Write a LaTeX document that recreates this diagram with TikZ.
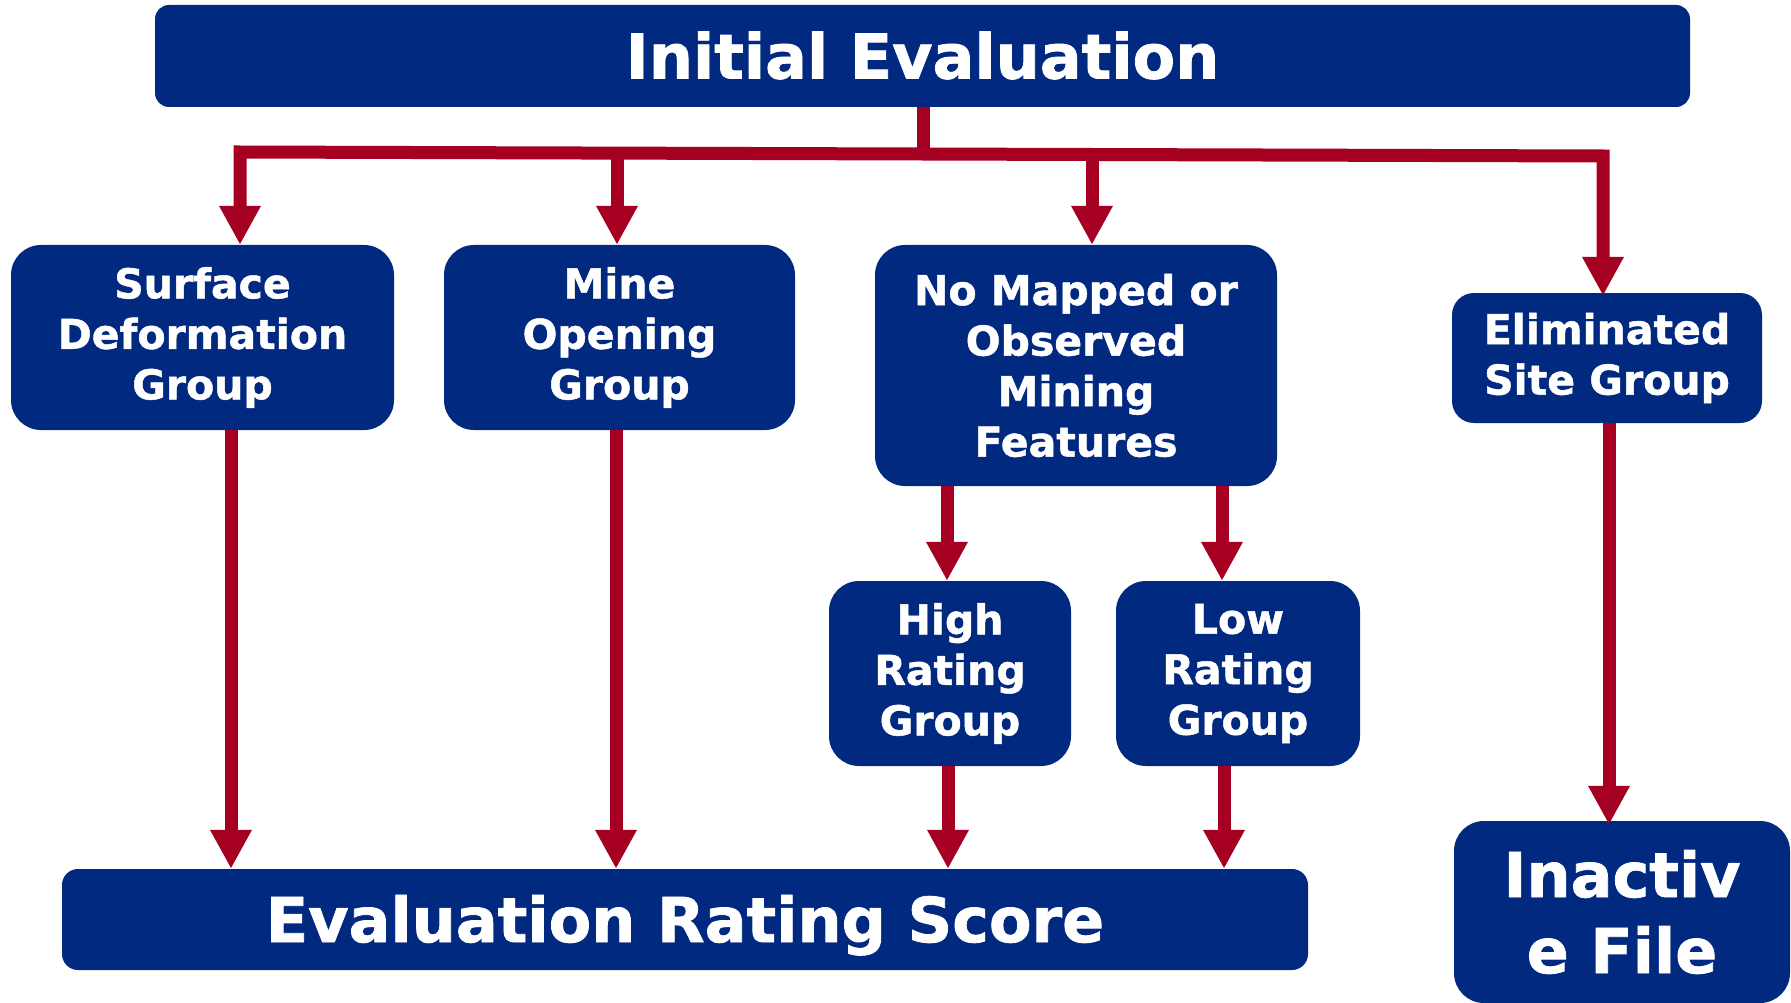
\documentclass[tikz,border=0pt]{standalone}
\usepackage{graphicx}
\usepackage{fontspec}
\setmainfont{DejaVu Sans}[BoldFeatures={FakeBold=1.2}]
\usetikzlibrary{arrows.meta}
\definecolor{navy}{RGB}{0,41,127}
\definecolor{arrowred}{RGB}{165,0,33}
\begin{document}
\begin{tikzpicture}[x=1pt,y=-1pt,
  box/.style={draw=none, fill=navy, text=white, rounded corners=30pt, inner sep=0pt, align=center,
    font=\bfseries\fontsize{41}{50.5}\selectfont, execute at begin node={\rule{0pt}{37pt}}},
  bigfont/.style={font=\bfseries\fontsize{62}{76}\selectfont},
  flow/.style={draw=arrowred, line width=13pt, line join=miter, -{Triangle[width=39pt,length=39pt]}},
  busline/.style={draw=arrowred, line width=13pt, line join=miter}
]
\useasboundingbox[fill=white] (0,0) rectangle (1791,1003);

% boxes
\node[box, bigfont, rounded corners=14pt, minimum width=1535pt, minimum height=102pt, text height=45.2pt, text depth=0pt] (init) at (922.5,56) {Initial Evaluation};
\node[box, minimum width=383pt, minimum height=185pt] (sd) at (202.5,337.5) {Surface\\Deformation\\Group};
\node[box, minimum width=351pt, minimum height=185pt] (mo) at (619.5,337.5) {Mine\\Opening\\Group};
\node[box, minimum width=402pt, minimum height=241pt] (nm) at (1076,365.5) {No Mapped or\\Observed\\Mining\\Features};
\node[box, rounded corners=22pt, minimum width=310pt, minimum height=130pt] (el) at (1607,358) {Eliminated\\Site Group};
\node[box, minimum width=242pt, minimum height=185pt] (hr) at (950,673.5) {High\\Rating\\Group};
\node[box, minimum width=244pt, minimum height=185pt] (lr) at (1238,673.5) {Low\\Rating\\Group};
\node[box, bigfont, rounded corners=16pt, minimum width=1246pt, minimum height=101pt, text height=45.2pt, text depth=0pt] (ers) at (685,919.5) {Evaluation Rating Score};
\node[box, bigfont, minimum width=336pt, minimum height=182pt] (inf) at (1622,912) {Inactiv\\e File};

% bus coordinates
\coordinate (busL) at (240,152);
\coordinate (busR) at (1603,156);
\coordinate (busM) at (923,154);
\coordinate (bus2) at (617,153.1);
\coordinate (bus3) at (1092,154.5);

% x positions of the lower connectors
\coordinate (xb1) at (231,0);
\coordinate (xb2) at (616,0);
\coordinate (xb3) at (947,0);
\coordinate (xb4) at (1222,0);
\coordinate (xb5) at (948,0);
\coordinate (xb6) at (1224,0);
\coordinate (xb7) at (1609,0);

% top distribution
\draw[busline] (init.south -| busM) -- (busM);
\draw[flow, {Triangle[width=39pt,length=39pt]}-{Triangle[width=39pt,length=39pt]}]
  (sd.north -| busL) -- (busL) -- (busR) -- ([yshift=-3pt]el.north -| busR);
\draw[flow] (bus2) -- (mo.north -| bus2);
\draw[flow] (bus3) -- (nm.north -| bus3);

% lower connectors
\draw[flow] (sd.south -| xb1) -- (ers.north -| xb1);
\draw[flow] (mo.south -| xb2) -- (ers.north -| xb2);
\draw[flow] (nm.south -| xb3) -- (hr.north -| xb3);
\draw[flow] (nm.south -| xb4) -- (lr.north -| xb4);
\draw[flow] (hr.south -| xb5) -- (ers.north -| xb5);
\draw[flow] (lr.south -| xb6) -- (ers.north -| xb6);
\draw[flow] (el.south -| xb7) -- ([yshift=-4pt]inf.north -| xb7);
\end{tikzpicture}
\end{document}
